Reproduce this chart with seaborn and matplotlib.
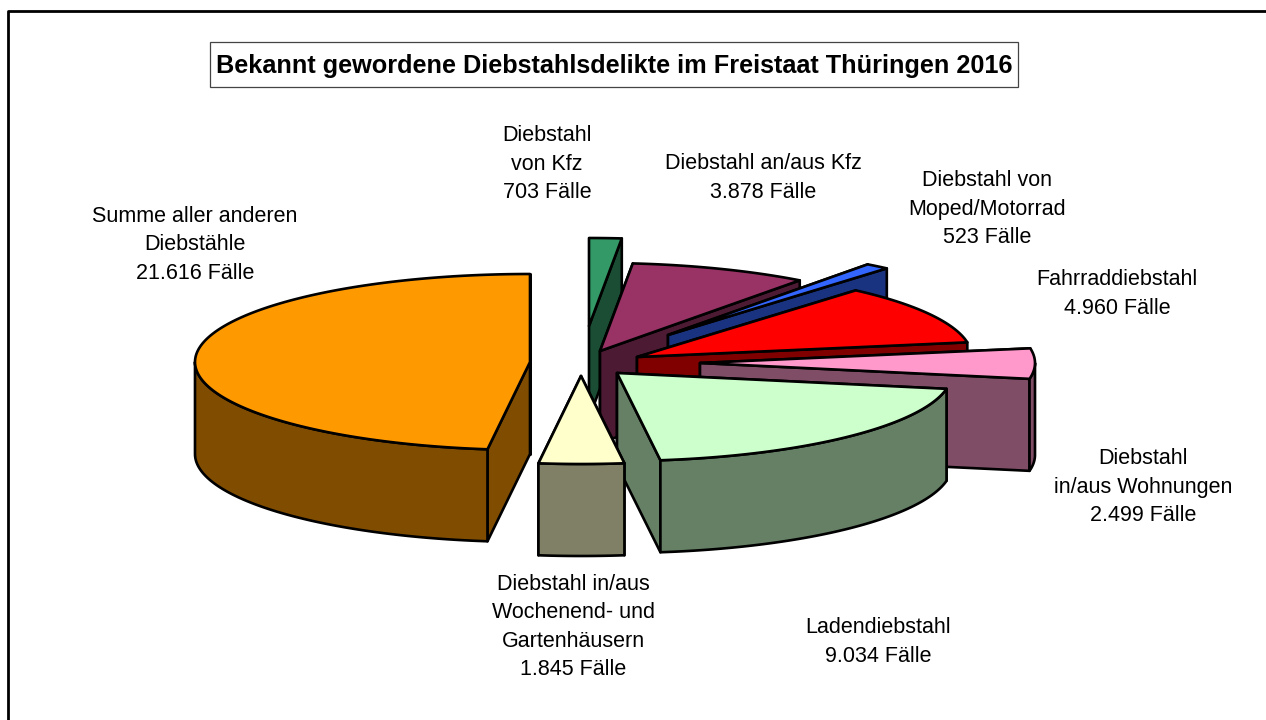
import matplotlib.pyplot as plt
import numpy as np
import seaborn as sns
from matplotlib.patches import Rectangle

# clockwise from 12 o'clock
names = [
    "Diebstahl\nvon Kfz",
    "Diebstahl an/aus Kfz",
    "Diebstahl von\nMoped/Motorrad",
    "Fahrraddiebstahl",
    "Diebstahl\nin/aus Wohnungen",
    "Ladendiebstahl",
    "Diebstahl in/aus\nWochenend- und\nGartenhäusern",
    "Summe aller anderen\nDiebstähle",
]
cases = [703, 3878, 523, 4960, 2499, 9034, 1845, 21616]
top_colors = [
    "#339966",
    "#993366",
    "#3366FF",
    "#FF0000",
    "#FF99CC",
    "#CCFFCC",
    "#FFFFCC",
    "#FF9900",
]
title = "Bekannt gewordene Diebstahlsdelikte im Freistaat Thüringen 2016"

# exploded tip of every slice and where its label sits, in pixels
tips = [(589, 326), (600, 351), (668, 335), (637, 357), (700, 363), (617, 373), (581, 376), (530, 362)]
label_pos = [(547, 164), (763, 178), (987, 209), (1117, 294), (1143, 487), (878, 642), (573, 627), (195, 245)]
RX, RY, DEPTH = 335, 88, 92
EDGE = dict(edgecolor="black", linewidth=1.9, joinstyle="round")

sns.set_style("white")
plt.rcParams["font.family"] = ["Liberation Sans", "DejaVu Sans"]

fig, ax = plt.subplots(figsize=(12.66, 7.2), dpi=100)
ax.set_position([0, 0, 1, 1])
ax.set_xlim(0, 1266)
ax.set_ylim(720, 0)
ax.axis("off")

# chart frame runs off the right and bottom of the picture
ax.plot([8, 8, 1280], [730, 11, 11], color="black", linewidth=2, clip_on=True)

palette = sns.color_palette(top_colors)
shares = np.array(cases) / sum(cases) * 2 * np.pi
ends = np.cumsum(shares)
starts = ends - shares


def rim(tip, a, b, drop=0):
    t = np.linspace(a, b, max(2, int((b - a) * 60)))
    return tip[0] + RX * np.sin(t), tip[1] - RY * np.cos(t) + drop


for tip, a, b, color in zip(tips, starts, ends, palette):
    side = tuple(c * 0.5 for c in color)
    # cut faces first, the top hides whichever one faces away
    for ang in (a, b):
        x, y = rim(tip, ang, ang)
        x, y = x[0], y[0]
        ax.fill(
            [tip[0], x, x, tip[0]],
            [tip[1], y, y + DEPTH, tip[1] + DEPTH],
            facecolor=side,
            **EDGE,
        )
    # outer wall, only the part on the front half of the ellipse
    lo, hi = max(a, np.pi / 2), min(b, 3 * np.pi / 2)
    if hi > lo:
        x, y = rim(tip, lo, hi)
        ax.fill(
            np.r_[x, x[::-1]],
            np.r_[y, y[::-1] + DEPTH],
            facecolor=side,
            **EDGE,
        )
    x, y = rim(tip, a, b)
    ax.fill(np.r_[tip[0], x], np.r_[tip[1], y], facecolor=color, **EDGE)

for name, n, (x, y) in zip(names, cases, label_pos):
    txt = f"{name}\n{n:,} Fälle".replace(",", ".")
    ax.text(x, y, txt, ha="center", va="center", fontsize=15.5, linespacing=1.46, color="black")

ax.add_patch(Rectangle((210, 42), 808, 45, facecolor="white", edgecolor="#444444", linewidth=0.9))
ax.text(614, 65.5, title, ha="center", va="center", fontsize=18.2, fontweight="bold", color="black")

plt.savefig("out.png", dpi=100)
